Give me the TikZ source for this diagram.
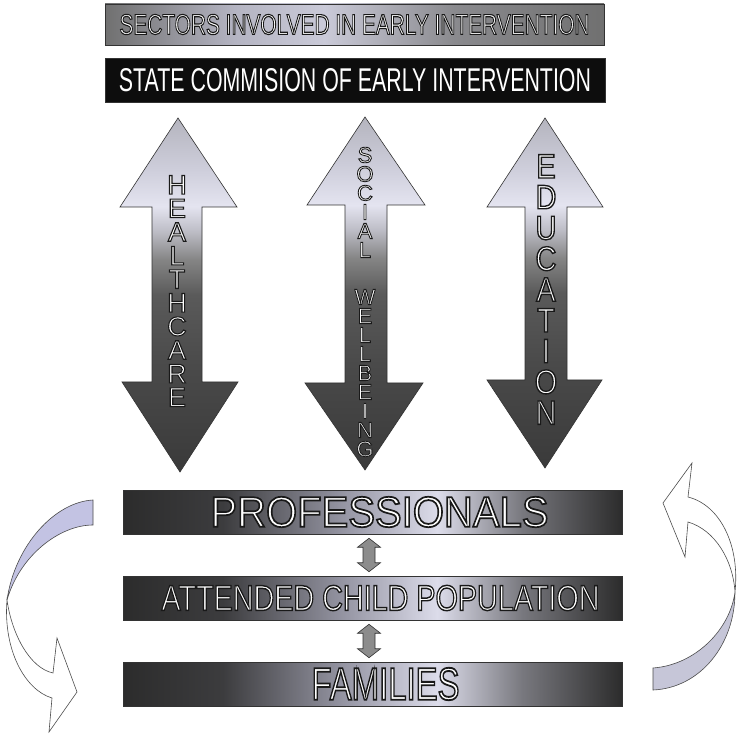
\documentclass[tikz,border=0pt]{standalone}
\usepackage{fontspec}
\setmainfont{Liberation Sans}
\newfontfamily\olfont[FakeBold=4]{Liberation Sans}
\newfontfamily\olnarrow[FakeBold=4, FakeStretch=0.85]{Liberation Sans}
\usepackage{graphicx}
\usetikzlibrary{calc}

\definecolor{bdA}{HTML}{2C2C2C}
\definecolor{bdB}{HTML}{3C3C3E}
\definecolor{bdC}{HTML}{9898A6}
\definecolor{bdD}{HTML}{DCDCEA}
\definecolor{bdE}{HTML}{78787E}
\definecolor{tgA}{HTML}{707070}
\definecolor{tgB}{HTML}{B4B4C2}
\definecolor{tgC}{HTML}{CACAD8}
\definecolor{tgD}{HTML}{8A8A8E}
\definecolor{arA}{HTML}{B4B4BE}
\definecolor{arB}{HTML}{CFCFDC}
\definecolor{arC}{HTML}{E4E4F0}
\definecolor{arD}{HTML}{BDBDC6}
\definecolor{arE}{HTML}{858585}
\definecolor{arF}{HTML}{5A5A5A}
\definecolor{arG}{HTML}{4A4A4A}
\definecolor{arH}{HTML}{3A3A3A}
\definecolor{ribL}{HTML}{C3C3E3}
\definecolor{ribR}{HTML}{C6C6D8}
\definecolor{smallgray}{HTML}{8C8C8C}
\definecolor{ink}{HTML}{333333}

\pgfdeclarehorizontalshading{barshade}{100bp}{color(0bp)=(bdA); color(25bp)=(bdA); color(35bp)=(bdB); color(47.5bp)=(bdC); color(56.5bp)=(bdD); color(65bp)=(bdE); color(75bp)=(bdA); color(100bp)=(bdA)}
\pgfdeclarehorizontalshading{topshade}{100bp}{color(0bp)=(tgA); color(25bp)=(tgA); color(38bp)=(tgB); color(47bp)=(tgC); color(60bp)=(tgD); color(75bp)=(tgA); color(100bp)=(tgA)}
\pgfdeclareverticalshading{arrshade}{100bp}{color(0bp)=(arH); color(25bp)=(arH); color(40bp)=(arG); color(50bp)=(arF); color(55bp)=(arE); color(59bp)=(arD); color(62.5bp)=(arC); color(67.5bp)=(arB); color(75bp)=(arA); color(100bp)=(arA)}

\newcommand\vstack[2]{\vbox{\baselineskip=#1\relax\lineskiplimit=-\maxdimen\lineskip=0pt\halign{\hfil##\hfil\cr#2\crcr}}}
\newcommand\hollow[1]{{\olfont\color{white}\special{pdf:literal direct 0.1 0.1 0.1 RG}#1}}
\newcommand\hollown[1]{{\olnarrow\color{white}\special{pdf:literal direct 0.1 0.1 0.1 RG}#1}}
\newcommand\smalldbl[2]{%
  \draw[smallarr] ($(#1)+(0,4)$) -- ($(#1)+(11.5,13)$) -- ($(#1)+(6,13)$) -- ($(#2)+(6,-13)$) -- ($(#2)+(11.5,-13)$) -- ($(#2)+(0,-4)$) -- ($(#2)+(-11.5,-13)$) -- ($(#2)+(-6,-13)$) -- ($(#1)+(-6,13)$) -- ($(#1)+(-11.5,13)$) -- cycle;}

\tikzset{
  bar/.style={draw=ink, line width=0.5pt, inner sep=0pt, minimum width=499pt, minimum height=44pt, shading=barshade},
  bigarr/.style={draw=ink, line width=0.6pt, shading=arrshade},
  smallarr/.style={draw=ink, line width=0.6pt, fill=smallgray},
  ribbon/.style={draw=black!70, line width=0.6pt}
}

\begin{document}
\begin{tikzpicture}[x=1pt,y=-1pt]
\useasboundingbox (0,0) rectangle (737,735);
\fill[white] (0,0) rectangle (737,735);

% top banners
\node[draw=ink, line width=0.5pt, inner sep=0pt, minimum width=499pt, minimum height=41pt, shading=topshade] (sectors) at (354.5,24.5)
  {\hollow{\resizebox{470pt}{20pt}{SECTORS INVOLVED IN EARLY INTERVENTION}}};
\node[fill=black!95, draw=ink, inner sep=0pt, minimum width=500pt, minimum height=44pt, text=white] (state) at (355,80)
  {\resizebox{472pt}{23pt}{STATE COMMISION OF EARLY INTERVENTION}};

% big double arrows
\draw[bigarr] (178,118) -- (237,207) -- (202,207) -- (202,382) -- (238,382) -- (180,472) -- (122,382) -- (152,382) -- (152,207) -- (120,207) -- cycle;
\draw[bigarr] (365,117) -- (425,205) -- (387,205) -- (387,383) -- (423,383) -- (365,470) -- (305,383) -- (345,383) -- (345,205) -- (307,205) -- cycle;
\draw[bigarr] (545,118) -- (603,207) -- (567,207) -- (567,380) -- (602,380) -- (545,468) -- (487,380) -- (525,380) -- (525,207) -- (487,207) -- cycle;

\node[inner sep=0pt, font=\fontsize{27}{27}\selectfont] (hc) at (177,291)
  {\hollow{\vstack{23.6pt}{H\cr E\cr A\cr L\cr T\cr H\cr C\cr A\cr R\cr E}}};
\node[inner sep=0pt, font=\fontsize{22}{22}\selectfont] (sw) at (365,302)
  {\hollow{\vstack{19pt}{S\cr O\cr C\cr I\cr A\cr L\cr\noalign{\vskip28pt} W\cr E\cr L\cr L\cr B\cr E\cr I\cr N\cr G}}};
\node[inner sep=0pt, font=\fontsize{34}{34}\selectfont] (ed) at (546,289.5)
  {\hollown{\vstack{30.8pt}{E\cr D\cr U\cr C\cr A\cr T\cr I\cr O\cr N}}};

% bottom bars
\node[bar] (prof) at (372.5,512) {\hspace*{14pt}\hollow{\resizebox{338pt}{30pt}{PROFESSIONALS}}};
\node[bar] (att) at (372.5,598) {\hspace*{16pt}\hollow{\resizebox{438pt}{25pt}{ATTENDED CHILD POPULATION}}};
\node[bar] (fam) at (372.5,684) {\hspace*{26pt}\hollow{\resizebox{148pt}{32pt}{FAMILIES}}};

\coordinate (p1) at ($(prof.south)+(-3.5,0)$);
\coordinate (a1) at ($(att.north)+(-3.5,0)$);
\coordinate (a2) at ($(att.south)+(-3.5,0)$);
\coordinate (f1) at ($(fam.north)+(-3.5,0)$);
\smalldbl{p1}{a1}
\smalldbl{a2}{f1}

% left curved arrow
\draw[ribbon, fill=ribL] (93,500) .. controls (55,502) and (15,545) .. (7,600)
  .. controls (20,555) and (60,525) .. (93,525) -- cycle;
\draw[ribbon, fill=white] (7,600) .. controls (12,635) and (30,668) .. (53,673)
  -- (57,638) -- (77,692) -- (49,732) -- (52,698)
  .. controls (25,690) and (3,650) .. (7,600) -- cycle;

% right curved arrow
\draw[ribbon, fill=ribR] (653,690) .. controls (700,688) and (735,645) .. (735,592)
  .. controls (730,630) and (695,665) .. (653,668) -- cycle;
\draw[ribbon, fill=white] (735,592) .. controls (733,560) and (715,530) .. (688,522)
  -- (685,557) -- (663,503) -- (692,463) -- (688,497)
  .. controls (720,505) and (740,545) .. (735,592) -- cycle;
\end{tikzpicture}
\end{document}
